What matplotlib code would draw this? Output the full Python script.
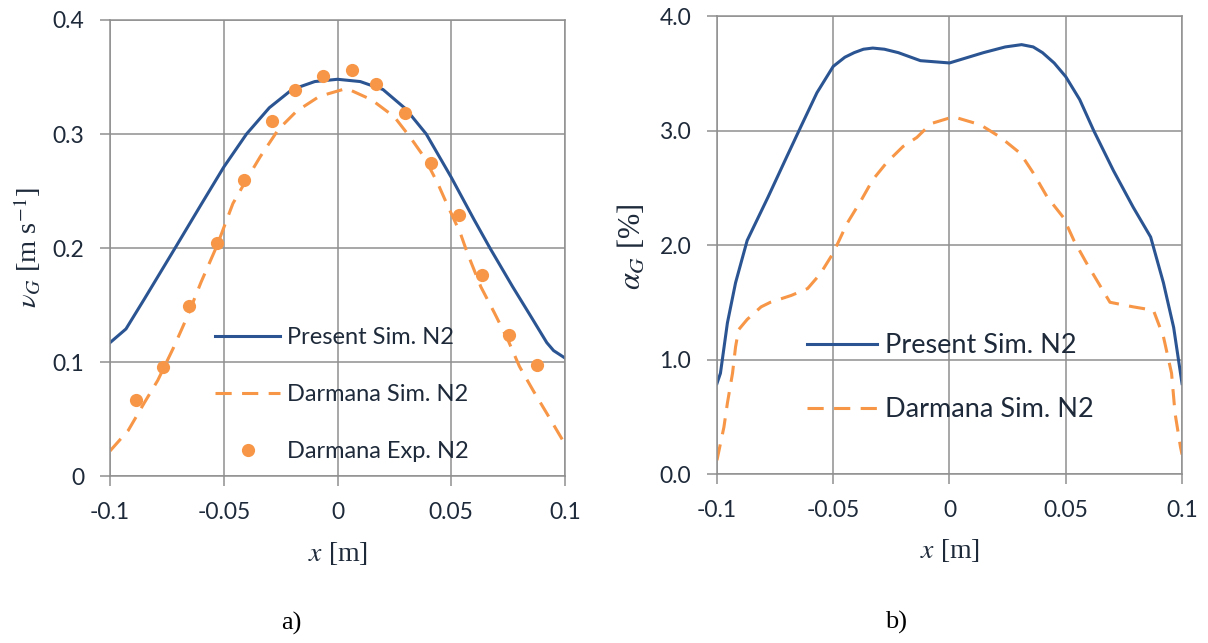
import matplotlib
matplotlib.use("Agg")
import matplotlib.pyplot as plt

# ---- data -------------------------------------------------------------
# a) gas velocity profiles
vel_present_x = [-0.1, -0.093, -0.085, -0.072, -0.06, -0.05, -0.04, -0.03, -0.02, -0.01,
                 0.0, 0.01, 0.02, 0.03, 0.039, 0.05, 0.06, 0.067, 0.077, 0.085, 0.092, 0.095, 0.1]
vel_present_y = [0.117, 0.129, 0.155, 0.198, 0.238, 0.271, 0.300, 0.323, 0.339, 0.346,
                 0.348, 0.346, 0.339, 0.322, 0.300, 0.262, 0.225, 0.200, 0.166, 0.140, 0.117, 0.110, 0.1035]

vel_darsim_x = [-0.1, -0.092, -0.085, -0.079, -0.072, -0.066, -0.06, -0.053, -0.046, -0.04,
                -0.034, -0.026, -0.018, -0.008, 0.004, 0.015, 0.025, 0.032, 0.038, 0.044,
                0.048, 0.054, 0.057, 0.063, 0.069, 0.075, 0.080, 0.086, 0.092, 0.1]
vel_darsim_y = [0.022, 0.040, 0.064, 0.084, 0.113, 0.140, 0.170, 0.202, 0.239, 0.260,
                0.280, 0.304, 0.320, 0.333, 0.340, 0.330, 0.315, 0.297, 0.280, 0.257,
                0.239, 0.213, 0.196, 0.166, 0.143, 0.119, 0.096, 0.075, 0.055, 0.028]

vel_darexp_x = [-0.0888, -0.0769, -0.0655, -0.0532, -0.0413, -0.029, -0.0185, -0.0062,
                0.0062, 0.017, 0.0295, 0.0413, 0.0536, 0.0637, 0.0756, 0.0879]
vel_darexp_y = [0.067, 0.096, 0.149, 0.204, 0.260, 0.311, 0.339, 0.351,
                0.356, 0.344, 0.318, 0.275, 0.229, 0.176, 0.124, 0.097]

# b) gas hold-up profiles
hold_present_x = [-0.1, -0.0985, -0.0955, -0.092, -0.087, -0.078, -0.070, -0.064, -0.057, -0.050,
                  -0.045, -0.041, -0.037, -0.033, -0.028, -0.022, -0.0125, 0.0, 0.0146, 0.024,
                  0.031, 0.036, 0.040, 0.045, 0.050, 0.056, 0.062, 0.0705, 0.079, 0.0865,
                  0.092, 0.0964, 0.1]
hold_present_y = [0.79, 0.88, 1.32, 1.67, 2.04, 2.42, 2.77, 3.03, 3.33, 3.56,
                  3.64, 3.68, 3.71, 3.72, 3.71, 3.68, 3.61, 3.59, 3.68, 3.73,
                  3.75, 3.73, 3.68, 3.59, 3.47, 3.27, 3.00, 2.65, 2.33, 2.07,
                  1.67, 1.28, 0.79]

hold_darsim_x = [-0.1, -0.097, -0.0955, -0.0933, -0.092, -0.0907, -0.087, -0.081, -0.077, -0.068,
                 -0.061, -0.0555, -0.050, -0.044, -0.038, -0.033, -0.027, -0.020, -0.014, -0.008,
                 0.0017, 0.0133, 0.022, 0.0305, 0.036, 0.042, 0.049, 0.0535, 0.059, 0.064,
                 0.069, 0.079, 0.0877, 0.092, 0.0955, 0.097, 0.0993, 0.1]
hold_darsim_y = [0.12, 0.41, 0.62, 0.88, 1.11, 1.26, 1.35, 1.46, 1.50, 1.56,
                 1.62, 1.75, 1.93, 2.19, 2.39, 2.57, 2.72, 2.86, 2.94, 3.06,
                 3.12, 3.05, 2.94, 2.80, 2.63, 2.42, 2.24, 2.04, 1.84, 1.67,
                 1.50, 1.46, 1.43, 1.20, 0.88, 0.53, 0.24, 0.17]

x_ticks = [-0.1, -0.05, 0.0, 0.05, 0.1]
x_ticklabels = ["-0.1", "-0.05", "0", "0.05", "0.1"]
vel_ticks = [0.0, 0.1, 0.2, 0.3, 0.4]
vel_ticklabels = ["0", "0.1", "0.2", "0.3", "0.4"]
hold_ticks = [0.0, 1.0, 2.0, 3.0, 4.0]
hold_ticklabels = ["0.0", "1.0", "2.0", "3.0", "4.0"]

labels = ["Present Sim. N2", "Darmana Sim. N2", "Darmana Exp. N2"]

# ---- style ------------------------------------------------------------
BLUE = "#2b5592"
ORANGE = "#f79646"
GRID = "#8f8f8f"
TEXT = "#1e2a3a"
SANS = ["Lato", "DejaVu Sans"]
SERIF = ["Liberation Serif", "DejaVu Serif"]

plt.rcParams["mathtext.fontset"] = "stix"
plt.rcParams["font.family"] = SANS

fig = plt.figure(figsize=(12.08, 6.43), dpi=100)
ax1 = fig.add_axes([0.0911, 0.2597, 0.3766, 0.7092])
ax2 = fig.add_axes([0.5935, 0.2628, 0.3850, 0.7123])

DASH = (0, (5.3, 3.4))


def style_axes(ax, yticks, yticklabels, fs):
    ax.set_xlim(-0.1, 0.1)
    ax.set_ylim(yticks[0], yticks[-1])
    ax.set_xticks(x_ticks)
    ax.set_xticklabels(x_ticklabels)
    ax.set_yticks(yticks)
    ax.set_yticklabels(yticklabels)
    ax.grid(True, color=GRID, lw=1.1)
    ax.set_axisbelow(True)
    for s in ax.spines.values():
        s.set_color(GRID)
        s.set_linewidth(1.1)
    ax.tick_params(direction="out", length=7.5, width=1.1, color=GRID,
                   labelcolor=TEXT, labelsize=fs, pad=11)


# a) velocity
ax1.plot(vel_present_x, vel_present_y, color=BLUE, lw=2.2, label=labels[0])
ax1.plot(vel_darsim_x, vel_darsim_y, color=ORANGE, lw=2.2, ls=DASH, label=labels[1])
ax1.plot(vel_darexp_x, vel_darexp_y, ls="none", marker="o", ms=9.5,
         color=ORANGE, mec="none", label=labels[2])
style_axes(ax1, vel_ticks, vel_ticklabels, 16.5)
ax1.legend(loc="center left", bbox_to_anchor=(0.231, 0.179), borderaxespad=0,
           borderpad=0, frameon=False, fontsize=17, handlelength=2.75,
           handletextpad=0.3, labelspacing=1.52, labelcolor=TEXT)
ax1.set_ylabel(r"$\nu_G$ [m s$^{-1}$]", fontsize=20.5, family=SERIF, color=TEXT)
ax1.yaxis.set_label_coords(-0.147, 0.5)
ax1.set_xlabel(r"$x$ [m]", fontsize=20, family=SERIF, color=TEXT)
ax1.xaxis.set_label_coords(0.5, -0.14)

# b) hold-up
ax2.plot(hold_present_x, hold_present_y, color=BLUE, lw=2.2, label=labels[0])
ax2.plot(hold_darsim_x, hold_darsim_y, color=ORANGE, lw=2.2, ls=DASH, label=labels[1])
style_axes(ax2, hold_ticks, hold_ticklabels, 16.5)
ax2.legend(loc="center left", bbox_to_anchor=(0.1935, 0.21), borderaxespad=0,
           borderpad=0, frameon=False, fontsize=19.5, handlelength=2.6,
           handletextpad=0.27, labelspacing=1.43, labelcolor=TEXT)
ax2.set_ylabel(r"$\alpha_G$ [%]", fontsize=22, family=SERIF, color=TEXT)
ax2.yaxis.set_label_coords(-0.15, 0.496)
ax2.set_xlabel(r"$x$ [m]", fontsize=20, family=SERIF, color=TEXT)
ax2.xaxis.set_label_coords(0.5, -0.1376)

fig.text(291 / 1208, 1 - 623 / 643, "a)", ha="center", va="center",
         fontsize=19, family=SERIF, color="black")
fig.text(896 / 1208, 1 - 622 / 643, "b)", ha="center", va="center",
         fontsize=19, family=SERIF, color="black")

fig.savefig("out.png", dpi=100, facecolor="white")
